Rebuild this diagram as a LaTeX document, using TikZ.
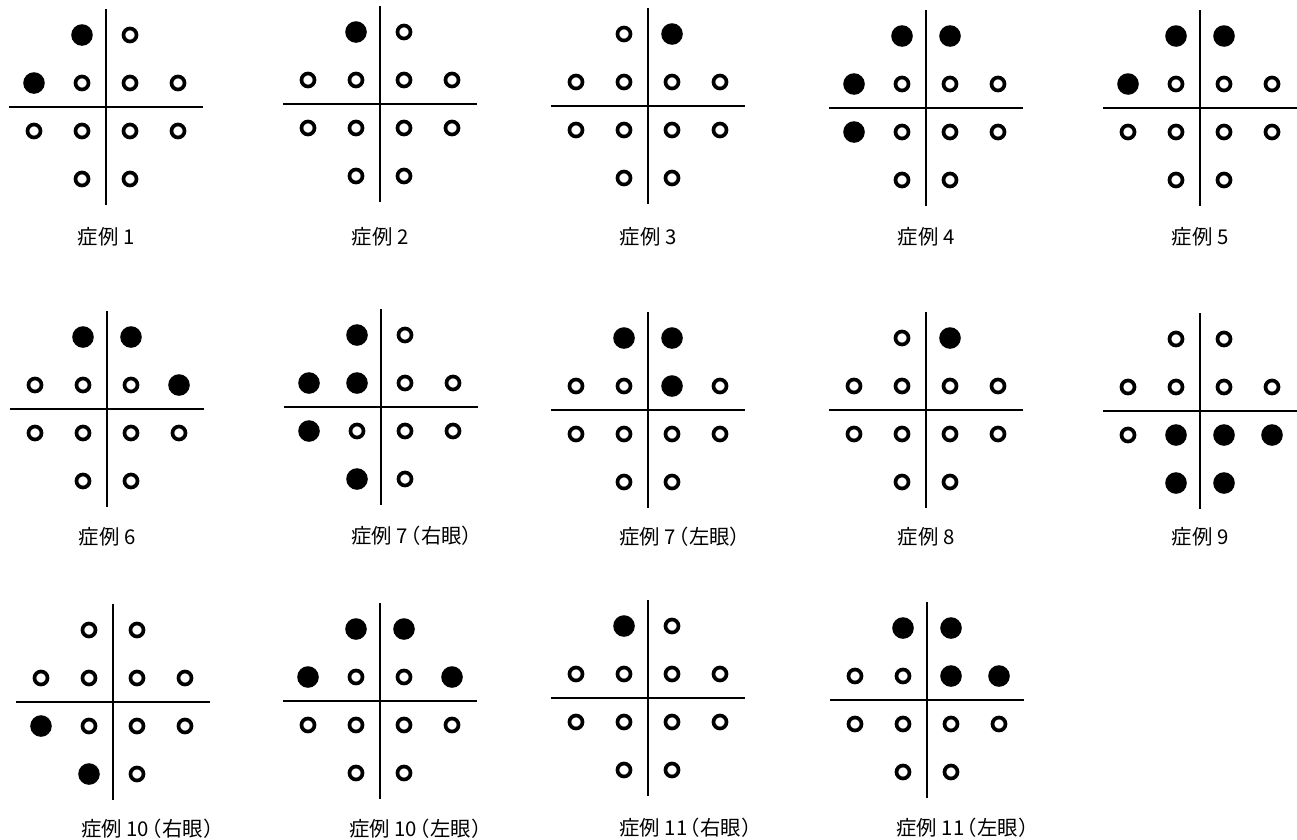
\documentclass[tikz,border=0pt]{standalone}
\usepackage{fontspec}
\usepackage{tikz}
\usetikzlibrary{calc}
\newfontfamily\jpfont{Noto Sans CJK JP}
\definecolor{cink}{HTML}{000000}

% one visual field chart: #1 name, #2 centre, #3 missed spots, #4 seen spots
\newcommand{\fieldchart}[4]{%
  \coordinate (#1) at (#2);
  \foreach \s/\dx/\dy in {t1/-24/-72,t2/24/-72,
      m1/-72/-24,m2/-24/-24,m3/24/-24,m4/72/-24,
      l1/-72/24,l2/-24/24,l3/24/24,l4/72/24,
      b1/-24/72,b2/24/72}
    \coordinate (#1-\s) at ($(#1)+(\dx,\dy)$);
  \draw[meridian] ($(#1)+(0,-98)$) -- ($(#1)+(0,98)$);
  \draw[meridian] ($(#1)+(-97,0)$) -- ($(#1)+(97,0)$);
  \foreach \s in {#3} \fill[missed] (#1-\s) circle (0.216cm);
  \foreach \s in {#4} \draw[seen] (#1-\s) circle (0.13cm);
}
% opening bracket set close to the number before it
\newcommand{\eyeopen}{\kern-.36em（}

\begin{document}
\begin{tikzpicture}[
    x={(0.02cm,0cm)}, y={(0cm,-0.02cm)},
    meridian/.style={draw=cink, line width=0.6pt},
    missed/.style={fill=cink},
    seen/.style={draw=cink, line width=2.1pt},
    lbl/.style={font={\jpfont\fontsize{11.6pt}{14pt}\selectfont}, text=cink, inner sep=0pt},
  ]
  \useasboundingbox (0,0) rectangle (1297,839);
  % first row
  \fieldchart{p1}{106,107}{t1,m1}{t2,m2,m3,m4,l1,l2,l3,l4,b1,b2}
  \fieldchart{p2}{380,104}{t1}{t2,m1,m2,m3,m4,l1,l2,l3,l4,b1,b2}
  \fieldchart{p3}{648,106}{t2}{t1,m1,m2,m3,m4,l1,l2,l3,l4,b1,b2}
  \fieldchart{p4}{926,108}{t1,t2,m1,l1}{m2,m3,m4,l2,l3,l4,b1,b2}
  \fieldchart{p5}{1200,108}{t1,t2,m1}{m2,m3,m4,l1,l2,l3,l4,b1,b2}
  \node[lbl] (p1-lbl) at ($(p1)+(0,130)$) {症例 1};
  \node[lbl] (p2-lbl) at ($(p2)+(0,133)$) {症例 2};
  \node[lbl] (p3-lbl) at ($(p3)+(0,131)$) {症例 3};
  \node[lbl] (p4-lbl) at ($(p4)+(0,129)$) {症例 4};
  \node[lbl] (p5-lbl) at ($(p5)+(0,129)$) {症例 5};
  % second row
  \fieldchart{p6}{107,409}{t1,t2,m4}{m1,m2,m3,l1,l2,l3,l4,b1,b2}
  \fieldchart{p7r}{381,407}{t1,m1,m2,l1,b1}{t2,m3,m4,l2,l3,l4,b2}
  \fieldchart{p7l}{648,410}{t1,t2,m3}{m1,m2,m4,l1,l2,l3,l4,b1,b2}
  \fieldchart{p8}{926,410}{t2}{t1,m1,m2,m3,m4,l1,l2,l3,l4,b1,b2}
  \fieldchart{p9}{1200,411}{l2,l3,l4,b1,b2}{t1,t2,m1,m2,m3,m4,l1}
  \node[lbl] (p6-lbl) at ($(p6)+(0,128)$) {症例 6};
  \node[lbl, anchor=west] (p7r-lbl) at ($(p7r)+(-30,129)$) {症例 7\eyeopen 右眼）};
  \node[lbl, anchor=west] (p7l-lbl) at ($(p7l)+(-29,127)$) {症例 7\eyeopen 左眼）};
  \node[lbl] (p8-lbl) at ($(p8)+(0,127)$) {症例 8};
  \node[lbl] (p9-lbl) at ($(p9)+(0,126)$) {症例 9};
  % third row
  \fieldchart{p10r}{113,702}{l1,b1}{t1,t2,m1,m2,m3,m4,l2,l3,l4,b2}
  \fieldchart{p10l}{380,701}{t1,t2,m1,m4}{m2,m3,l1,l2,l3,l4,b1,b2}
  \fieldchart{p11r}{648,698}{t1}{t2,m1,m2,m3,m4,l1,l2,l3,l4,b1,b2}
  \fieldchart{p11l}{927,700}{t1,t2,m3,m4}{m1,m2,l1,l2,l3,l4,b1,b2}
  \node[lbl, anchor=west] (p10r-lbl) at ($(p10r)+(-32,127)$) {症例 10\eyeopen 右眼）};
  \node[lbl, anchor=west] (p10l-lbl) at ($(p10l)+(-31,128)$) {症例 10\eyeopen 左眼）};
  \node[lbl, anchor=west] (p11r-lbl) at ($(p11r)+(-29,130)$) {症例 11\eyeopen 右眼）};
  \node[lbl, anchor=west] (p11l-lbl) at ($(p11l)+(-31,128)$) {症例 11\eyeopen 左眼）};
\end{tikzpicture}
\end{document}
